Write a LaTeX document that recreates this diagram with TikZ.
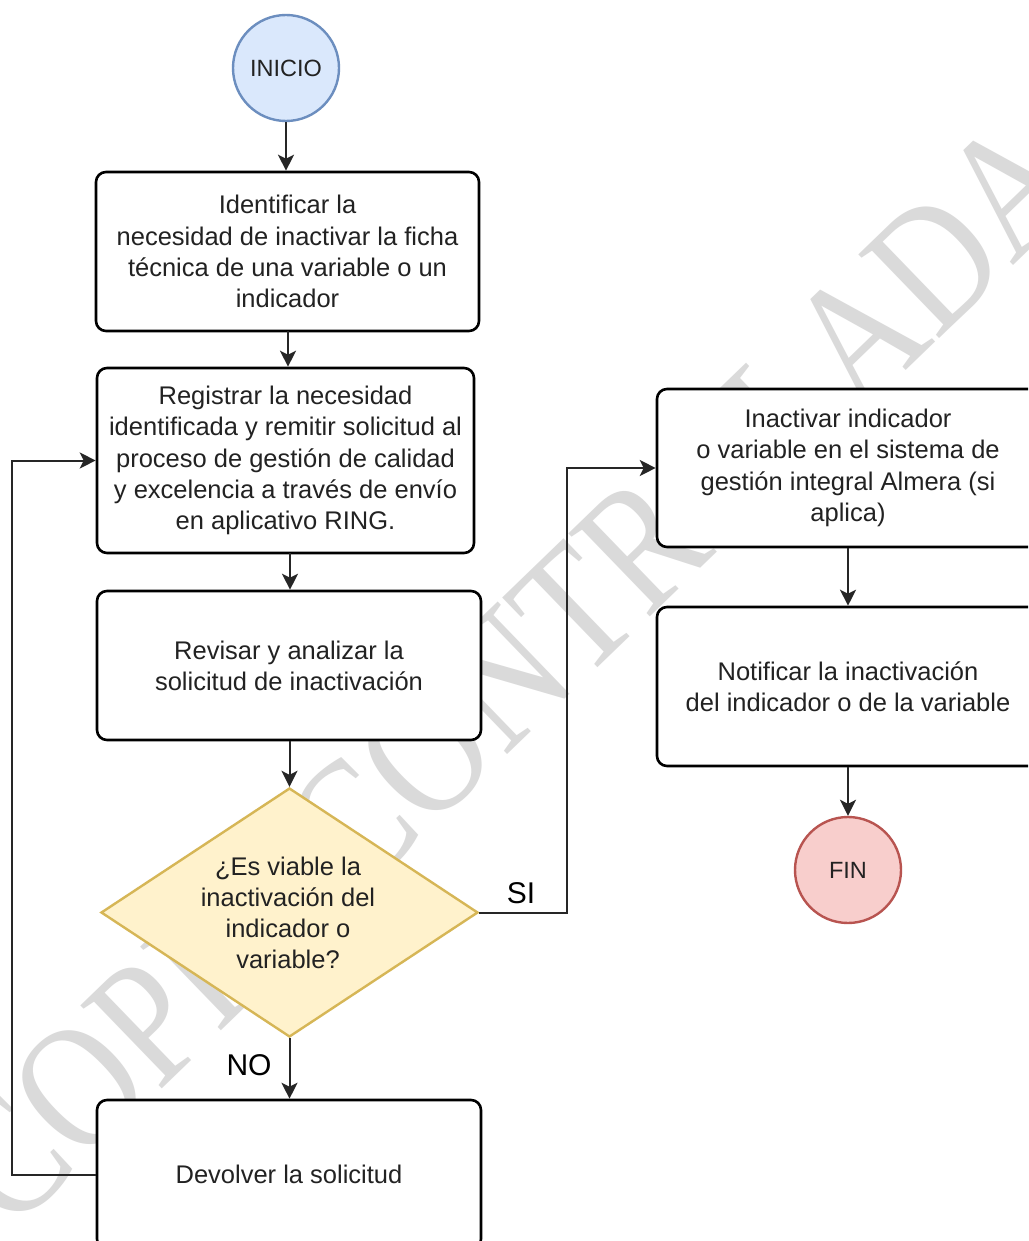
\documentclass[tikz,border=0pt]{standalone}
\usepackage{fontspec}
\setmainfont{Liberation Sans}
\newfontfamily\wmfont{Liberation Serif}
\usetikzlibrary{arrows.meta,shapes.geometric}
\definecolor{startfill}{HTML}{DAE8FC}
\definecolor{startdraw}{HTML}{6C8EBF}
\definecolor{endfill}{HTML}{F8CECC}
\definecolor{enddraw}{HTML}{B85450}
\definecolor{decfill}{HTML}{FFF2CC}
\definecolor{decdraw}{HTML}{D6B656}
\definecolor{wmgray}{HTML}{DADADA}
\definecolor{txt}{HTML}{222222}
\tikzset{
  wm/.style={text=wmgray, inner sep=0, font=\wmfont\fontsize{148}{148}\selectfont},
  box/.style={draw=black, line width=2.6pt, rounded corners=10pt, fill=white,
    align=center, inner sep=0pt, text=txt, font=\fontsize{25.5}{31.2}\selectfont},
  term/.style={circle, line width=2.4pt, inner sep=0pt, minimum size=106pt,
    text=txt, font=\fontsize{23.5}{28}\selectfont},
  dec/.style={diamond, draw=decdraw, fill=decfill, line width=2.4pt, inner sep=0pt},
  dectext/.style={align=center, inner sep=0pt, text=txt, font=\fontsize{25.5}{31.2}\selectfont},
  lbl/.style={inner sep=0pt, text=black, font=\fontsize{30}{36}\selectfont},
  conn/.style={draw=black!85, line width=2pt, -{Stealth[length=16pt,width=16pt,inset=4pt]}},
}
\begin{document}
\begin{tikzpicture}[x=1pt,y=-1pt]
\useasboundingbox (0,0) rectangle (1028,1241);
\clip (0,0) rectangle (1028,1241);
\fill[white] (0,0) rectangle (1028,1241);

% watermark
\node[wm, rotate=44] (wmark) at (510,672) {\scalebox{1}[1.2]{COPIA CONTROLADA}};

% nodes
\node[term, draw=startdraw, fill=startfill] (inicio) at (286,68) {INICIO};
\node[box, minimum width=383pt, minimum height=159pt] (b1) at (287.5,251.5)
  {Identificar la\\necesidad de inactivar la ficha\\técnica de una variable o un\\indicador};
\node[box, minimum width=377pt, minimum height=185pt] (b2) at (285.5,460.5)
  {Registrar la necesidad\\identificada y remitir solicitud al\\proceso de gestión de calidad\\y excelencia a través de envío\\en aplicativo RING.};
\node[box, minimum width=384pt, minimum height=149pt] (b3) at (289,665.5)
  {Revisar y analizar la\\solicitud de inactivación};
\node[dec, minimum width=377pt, minimum height=249pt] (d) at (289.5,912.5) {};
\node[dectext] (dt) at (288,913) {¿Es viable la\\inactivación del\\indicador o\\variable?};
\node[box, minimum width=384pt, minimum height=149pt] (b4) at (289,1174.5)
  {Devolver la solicitud};
\node[box, minimum width=382pt, minimum height=158pt] (b5) at (848,468)
  {Inactivar indicador\\o variable en el sistema de\\gestión integral Almera (si\\aplica)};
\node[box, minimum width=382pt, minimum height=159pt] (b6) at (848,686.5)
  {Notificar la inactivación\\del indicador o de la variable};
\node[term, draw=enddraw, fill=endfill] (fin) at (848,870) {FIN};

% helper coordinates
\coordinate (lx) at (12,0);
\coordinate (sx) at (567,0);
\coordinate (c1) at (288,331);
\coordinate (c2) at (290,553);

% connectors
\draw[conn] (inicio.south) -- (inicio.south |- b1.north);
\draw[conn] (c1) -- (c1 |- b2.north);
\draw[conn] (c2) -- (c2 |- b3.north);
\draw[conn] (b3.south -| d.north) -- (d.north);
\draw[conn] (d.south) -- (d.south |- b4.north);
\draw[conn] (b4.west) -| (lx |- b2.west) -- (b2.west);
\draw[conn] (d.east) -| (sx |- b5.west) -- (b5.west);
\draw[conn] (b5.south) -- (b6.north);
\draw[conn] (b6.south) -- (fin.north);

% labels
\node[lbl] (si) at (521,893) {SI};
\node[lbl] (no) at (249,1065) {NO};
\end{tikzpicture}
\end{document}
